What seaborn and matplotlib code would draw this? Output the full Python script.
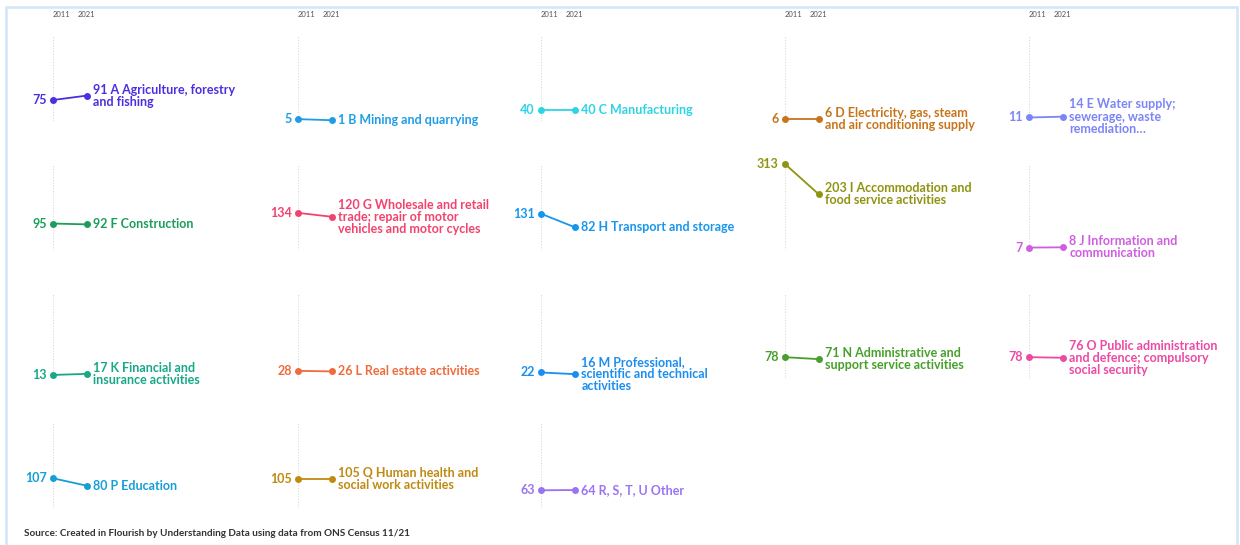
import matplotlib
matplotlib.use("Agg")
import matplotlib.pyplot as plt
import seaborn as sns
import pandas as pd
from matplotlib.patches import Rectangle

sns.set_theme(style="white")
plt.rcParams['font.family'] = ['Lato', 'DejaVu Sans']

# ---------------- data ----------------
years = [2011, 2021]
categories = [
    "A Agriculture, forestry\nand fishing",
    "B Mining and quarrying",
    "C Manufacturing",
    "D Electricity, gas, steam\nand air conditioning supply",
    "E Water supply;\nsewerage, waste\nremediation\u2026",
    "F Construction",
    "G Wholesale and retail\ntrade; repair of motor\nvehicles and motor cycles",
    "H Transport and storage",
    "I Accommodation and\nfood service activities",
    "J Information and\ncommunication",
    "K Financial and\ninsurance activities",
    "L Real estate activities",
    "M Professional,\nscientific and technical\nactivities",
    "N Administrative and\nsupport service activities",
    "O Public administration\nand defence; compulsory\nsocial security",
    "P Education",
    "Q Human health and\nsocial work activities",
    "R, S, T, U Other",
]
values_2011 = [75, 5, 40, 6, 11, 95, 134, 131, 313, 7, 13, 28, 22, 78, 78, 107, 105, 63]
values_2021 = [91, 1, 40, 6, 14, 92, 120, 82, 203, 8, 17, 26, 16, 71, 76, 80, 105, 64]
palette = [
    "#4b2fe0", "#1e9de6", "#2dd4e6", "#c8741a", "#7b85f7",
    "#1a9e5a", "#f2436e", "#1696ec", "#8f9410", "#cf5fe0",
    "#17a889", "#ef6a3c", "#1a8ef0", "#47a02a", "#ec4aa3",
    "#159fd6", "#c08a10", "#9a72f4",
]
source_text = "Source: Created in Flourish by Understanding Data using data from ONS Census 11/21"

# ---------------- layout ----------------
W, H = 1240, 545
fig = plt.figure(figsize=(W / 100, H / 100), dpi=100)
fig.patch.set_facecolor("white")

col_x = [53, 298, 541, 785, 1029]   # pixel x of 2011 gridline
panel_w = 33.5
row_zero = [120.5, 249.5, 378.5, 507.5]  # pixel y (from top) of value 0
panel_h = 85.5
ymax = 313

# border
fig.patches.append(Rectangle((6 / W, -0.1), (1237 - 6) / W, 1.1 - 7 / H,
                             transform=fig.transFigure, fill=False,
                             edgecolor="#d3e5f6", linewidth=1.8, zorder=0))

for i, cat in enumerate(categories):
    r, c = divmod(i, 5)
    left = col_x[c] / W
    bottom = (H - row_zero[r]) / H
    ax = fig.add_axes([left, bottom, panel_w / W, panel_h / H])
    df = pd.DataFrame({"year": years, "value": [values_2011[i], values_2021[i]]})
    color = palette[i]
    sns.lineplot(data=df, x="year", y="value", ax=ax, color=color, lw=1.3,
                 marker="o", markersize=5, markeredgewidth=0, clip_on=False, zorder=3)
    ax.set_xlim(2011, 2021)
    ax.set_ylim(0, ymax)
    ax.set_xticks(years)
    ax.set_yticks([])
    ax.set_xlabel("")
    ax.set_ylabel("")
    ax.tick_params(axis="x", length=0, labelbottom=False)
    ax.grid(axis="x", color="#d9d9d9", linestyle=(0, (1, 1.5)), linewidth=0.8)
    ax.grid(axis="y", visible=False)
    for s in ax.spines.values():
        s.set_visible(False)
    ax.patch.set_alpha(0)

    ax.annotate(f"{values_2011[i]}", xy=(2011, values_2011[i]), xytext=(-4.5, 0),
                textcoords="offset points", ha="right", va="center",
                color=color, fontsize=9, fontweight="bold")
    ax.annotate(f"{values_2021[i]} {cat}", xy=(2021, values_2021[i]), xytext=(5, 0),
                textcoords="offset points", ha="left", va="center",
                color=color, fontsize=9, fontweight="bold", linespacing=1.02)

    if r == 0:
        ax.annotate("2011", xy=(2011, 1), xycoords=("data", "axes fraction"),
                    xytext=(0, 14.5), textcoords="offset points",
                    ha="left", va="center", fontsize=5.5, color="#555555")
        ax.annotate("2021", xy=(2021, 1), xycoords=("data", "axes fraction"),
                    xytext=(0, 14.5), textcoords="offset points",
                    ha="center", va="center", fontsize=5.5, color="#555555")

fig.text(24 / W, 1 - 533 / H, source_text, ha="left", va="center",
         fontsize=7.2, fontweight="bold", color="#333333")

fig.savefig("out.png", dpi=100)
